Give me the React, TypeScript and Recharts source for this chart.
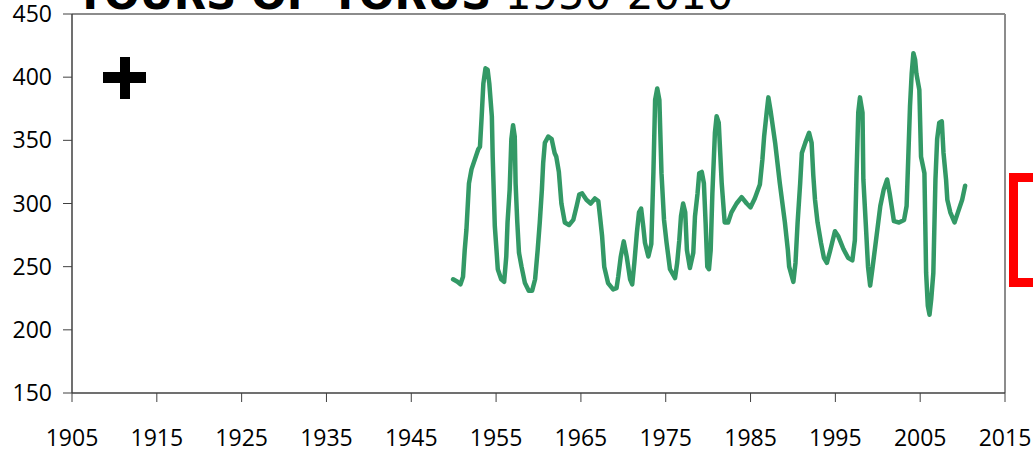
import { LineChart, Line, XAxis, YAxis, ReferenceLine } from 'recharts'

// decimal years
const years = [
  1949.93, 1950.45, 1950.8, 1951.1, 1951.3, 1951.5, 1951.8, 1952.1, 1952.9, 1953.1,
  1953.3, 1953.5, 1953.75, 1954.0, 1954.2, 1954.5, 1954.6, 1954.85, 1955.05, 1955.2,
  1955.6, 1955.95, 1956.2, 1956.35, 1956.6, 1956.8, 1957.0, 1957.2, 1957.3, 1957.5,
  1957.7, 1958.0, 1958.4, 1958.85, 1959.25, 1959.6, 1959.9, 1960.15, 1960.4, 1960.55,
  1960.75, 1961.15, 1961.55, 1961.9, 1962.1, 1962.4, 1962.7, 1963.1, 1963.6, 1964.1,
  1964.5, 1964.8, 1965.15, 1965.65, 1966.15, 1966.65, 1967.05, 1967.25, 1967.5, 1967.75,
  1968.2, 1968.8, 1969.2, 1969.4, 1969.7, 1970.05, 1970.4, 1970.8, 1971.05, 1971.3,
  1971.6, 1971.85, 1972.1, 1972.35, 1972.55, 1972.95, 1973.3, 1973.55, 1973.75, 1974.0,
  1974.25, 1974.5, 1974.8, 1975.1, 1975.5, 1976.1, 1976.35, 1976.6, 1976.8, 1977.05,
  1977.3, 1977.5, 1977.85, 1978.25, 1978.45, 1978.75, 1978.95, 1979.25, 1979.5, 1979.7,
  1979.9, 1980.1, 1980.3, 1980.5, 1980.8, 1981.0, 1981.25, 1981.6, 1981.95, 1982.35,
  1982.75, 1983.35, 1983.95, 1984.55, 1985.0, 1985.5, 1986.1, 1986.4, 1986.6, 1986.9,
  1987.1, 1987.35, 1987.9, 1988.45, 1989.05, 1989.4, 1989.55, 1990.05, 1990.3, 1990.55,
  1990.85, 1991.05, 1991.45, 1991.9, 1992.2, 1992.4, 1992.6, 1992.9, 1993.3, 1993.65,
  1994.0, 1994.4, 1994.95, 1995.35, 1995.95, 1996.5, 1997.0, 1997.3, 1997.5, 1997.7,
  1997.9, 1998.2, 1998.3, 1998.6, 1998.85, 1999.1, 1999.4, 1999.7, 2000.0, 2000.3,
  2000.7, 2001.1, 2001.4, 2001.7, 2001.9, 2002.5, 2003.1, 2003.4, 2003.6, 2003.8,
  2004.0, 2004.2, 2004.4, 2004.55, 2004.9, 2005.1, 2005.5, 2005.7, 2005.9, 2006.1,
  2006.3, 2006.55, 2006.8, 2007.0, 2007.25, 2007.55, 2007.75, 2008.05, 2008.2, 2008.55,
  2009.05, 2009.45, 2009.95, 2010.3,
]

const values = [
  240, 238, 236, 242, 263, 279, 316, 327, 343, 345,
  369, 395, 407, 406, 395, 369, 337, 282, 263, 248,
  240, 238, 258, 285, 311, 351, 362, 353, 316, 285,
  261, 250, 237, 231, 231, 240, 263, 285, 311, 332,
  348, 353, 351, 340, 337, 325, 300, 285, 283, 287,
  298, 307, 308, 303, 300, 304, 302, 290, 274, 250,
  237, 232, 233, 242, 258, 270, 258, 240, 236, 253,
  277, 293, 296, 282, 269, 258, 268, 325, 382, 391,
  382, 324, 287, 269, 248, 241, 253, 271, 290, 300,
  293, 263, 249, 261, 290, 308, 324, 325, 316, 285,
  250, 248, 263, 308, 356, 369, 364, 316, 285, 285,
  293, 300, 305, 300, 297, 304, 315, 335, 353, 372,
  384, 374, 348, 316, 285, 263, 250, 238, 253, 285,
  316, 340, 348, 356, 348, 322, 303, 285, 269, 257,
  253, 263, 278, 274, 264, 257, 255, 271, 324, 372,
  384, 372, 319, 282, 250, 235, 250, 266, 282, 298,
  311, 319, 308, 295, 286, 285, 287, 298, 337, 377,
  403, 419, 414, 403, 390, 337, 324, 245, 219, 212,
  224, 245, 319, 351, 364, 365, 340, 319, 303, 293,
  285, 293, 303, 314,
]

const xTicks = [1905, 1915, 1925, 1935, 1945, 1955, 1965, 1975, 1985, 1995, 2005, 2015]
const yTicks = [150, 200, 250, 300, 350, 400, 450]

const data = years.map((yr, i) => ({ year: yr, value: values[i] }))

const tickFont = { fill: '#000', fontSize: 23, fontFamily: 'Open Sans, sans-serif' }

export default function App() {
  return (
    <div style={{ position: 'absolute', left: 0, top: 0, width: 1033, height: 454, background: '#fff', overflow: 'hidden' }}>
      <LineChart width={1033} height={454} data={data} margin={{ top: 14, right: 28, left: 0, bottom: 0 }}>
        <XAxis
          dataKey="year"
          type="number"
          domain={[1905, 2015]}
          ticks={xTicks}
          allowDataOverflow
          height={61}
          tickSize={9}
          tickMargin={28}
          tick={tickFont}
          axisLine={{ stroke: '#404040', strokeWidth: 1.5 }}
          tickLine={{ stroke: '#404040' }}
        />
        <YAxis
          type="number"
          domain={[150, 450]}
          ticks={yTicks}
          width={72}
          tickSize={9}
          tickMargin={11}
          tick={tickFont}
          axisLine={{ stroke: '#404040', strokeWidth: 1.5 }}
          tickLine={{ stroke: '#404040' }}
        />
        {/* top and right frame */}
        <ReferenceLine y={450} stroke="#8c8c8c" strokeWidth={2} />
        <ReferenceLine x={2015} stroke="#8c8c8c" strokeWidth={2} />
        <Line
          dataKey="value"
          type="linear"
          stroke="#339966"
          strokeWidth={4.5}
          strokeLinejoin="round"
          strokeLinecap="round"
          dot={false}
          isAnimationActive={false}
        />
      </LineChart>

      {/* title, clipped at the top of the picture */}
      <svg width={1033} height={454} style={{ position: 'absolute', left: 0, top: 0, pointerEvents: 'none' }}>
        <text x={75} y={9} fontFamily="DejaVu Sans, sans-serif" fontSize={42} fill="#000">
          <tspan fontWeight="bold">YOURS OF YORUS</tspan>
          <tspan> 1950-2010</tspan>
        </text>
      </svg>

      {/* plus marker */}
      <div style={{ position: 'absolute', left: 103, top: 72, width: 43, height: 11, background: '#000' }} />
      <div style={{ position: 'absolute', left: 120, top: 57, width: 10, height: 42, background: '#000' }} />

      {/* red bracket at the right edge */}
      <div
        style={{
          position: 'absolute',
          left: 1009,
          top: 173,
          width: 40,
          height: 96,
          border: '9px solid #ff0000',
          borderRight: 'none',
        }}
      />
    </div>
  )
}
